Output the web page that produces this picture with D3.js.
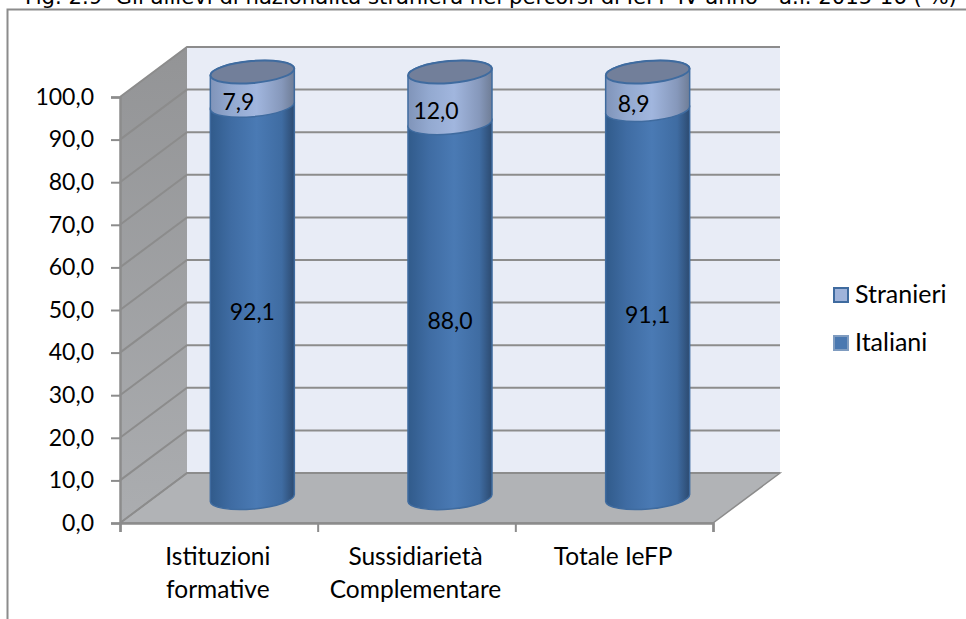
<!DOCTYPE html>
<html>
<head>
<meta charset="utf-8">
<script src="https://cdnjs.cloudflare.com/ajax/libs/d3/7.8.5/d3.min.js"></script>
<style>
  html, body { margin: 0; padding: 0; background: #fff; overflow: hidden; }
  text { font-family: Lato, "Open Sans", sans-serif; fill: #000; }
</style>
</head>
<body>
<div id="chart"></div>
<script>
const titleText = "Fig. 2.9  Gli allievi di nazionalità straniera nei percorsi di IeFP IV anno - a.f. 2015-16 ( %)";
const categories = ["Istituzioni formative", "Sussidiarietà Complementare", "Totale IeFP"];
const categoryLines = [["Istituzioni", "formative"], ["Sussidiarietà", "Complementare"], ["Totale IeFP"]];
const italiani = [92.1, 88.0, 91.1];
const stranieri = [7.9, 12.0, 8.9];
const seriesNames = ["Italiani", "Stranieri"];
const legendOrder = ["Stranieri", "Italiani"];
const yTicks = [0, 10, 20, 30, 40, 50, 60, 70, 80, 90, 100];

const width = 966;
const height = 619;
const depthX = 67;
const depthY = -50;
const gridColor = "#8c8c8c";

const svg = d3.select("#chart").append("svg")
  .attr("width", width)
  .attr("height", height);

const x = d3.scaleBand().domain(categories).range([120, 713]).paddingInner(0.575).paddingOuter(0.2875);
const y = d3.scaleLinear().domain([0, 100]).range([523, 97]);
const comma = (v) => v.toFixed(1).replace(".", ",");

// gradients
const defs = svg.append("defs");
function hGradient(id, stops) {
  const g = defs.append("linearGradient").attr("id", id);
  stops.forEach((s) => g.append("stop").attr("offset", s[0]).attr("stop-color", s[1]));
}
hGradient("gradItaliani", [[0, "#315b8b"], [0.25, "#3f6ca3"], [0.55, "#4a7ab4"], [0.85, "#3f6ca2"], [1, "#2c4a70"]]);
hGradient("gradStranieri", [[0, "#8094b9"], [0.25, "#93a9d0"], [0.55, "#a1b6de"], [0.85, "#8698bb"], [1, "#6f7d96"]]);
defs.append("linearGradient").attr("id", "gradSide").attr("x1", 0).attr("x2", 0).attr("y1", 0).attr("y2", 1)
  .selectAll("stop").data([[0, "#939496"], [1, "#abadb0"]]).enter().append("stop")
  .attr("offset", (d) => d[0]).attr("stop-color", (d) => d[1]);

// title, cut by the top of the picture
svg.append("text")
  .attr("id", "title")
  .attr("x", 25)
  .attr("y", 4)
  .style("white-space", "pre")
  .style("font-family", "'DejaVu Sans'")
  .style("font-size", "21.2px")
  .text(titleText);

// chart frame
svg.append("path")
  .attr("d", "M7.5," + height + "V9.5H" + width)
  .attr("fill", "none")
  .attr("stroke", gridColor)
  .attr("stroke-width", 2);

// back wall, side wall, floor
const [x0, x1] = x.range();
svg.append("rect")
  .attr("x", x0 + depthX)
  .attr("y", y(100) + depthY)
  .attr("width", x1 - x0)
  .attr("height", y(0) - y(100))
  .attr("fill", "#e8ecf6");
svg.append("path")
  .attr("d", d3.line()([[x0, y(100)], [x0 + depthX, y(100) + depthY], [x0 + depthX, y(0) + depthY], [x0, y(0)]]) + "Z")
  .attr("fill", "url(#gradSide)");
svg.append("path")
  .attr("d", d3.line()([[x0, y(0)], [x0 + depthX, y(0) + depthY], [x1 + depthX, y(0) + depthY], [x1, y(0)]]) + "Z")
  .attr("fill", "#b1b3b6")
  .attr("stroke", gridColor)
  .attr("stroke-width", 1.5);

// gridlines on both walls
const grid = svg.append("g").attr("fill", "none").attr("stroke", gridColor).attr("stroke-width", 2);
yTicks.forEach((t) => {
  grid.append("path")
    .attr("d", d3.line()([[x0, y(t)], [x0 + depthX, y(t) + depthY], [x1 + depthX, y(t) + depthY]]));
});

// axes
const yAxis = svg.append("g")
  .attr("transform", "translate(" + x0 + ",0)")
  .call(d3.axisLeft(y).tickValues(yTicks).tickSize(9).tickPadding(17).tickFormat(comma));
const xTickScale = d3.scaleLinear().domain([0, categories.length]).range([x0, x1]);
const xAxis = svg.append("g")
  .attr("transform", "translate(0," + y(0) + ")")
  .call(d3.axisBottom(xTickScale).ticks(categories.length).tickSize(9).tickFormat(""));
[yAxis, xAxis].forEach((a) => {
  a.selectAll("line").attr("stroke", gridColor).attr("stroke-width", 2);
  a.select(".domain").attr("stroke", gridColor).attr("stroke-width", 2.5);
});
yAxis.selectAll("text").style("font-family", null).style("font-size", "23px").attr("fill", "#000");
yAxis.attr("font-family", null);

// cylinders
const table = categories.map((c, i) => ({ category: c, Italiani: italiani[i], Stranieri: stranieri[i] }));
const stacked = d3.stack().keys(seriesNames)(table);
const rx = x.bandwidth() / 2;
const ry = 11;
const tilt = 5;
const tiltRise = rx * Math.sin(tilt * Math.PI / 180);
const offX = depthX / 2;
const offY = depthY / 2;
const arcTo = (px, py) => "A" + rx + "," + ry + " " + (-tilt) + " 0 0 " + px + "," + py;

function segmentPath(cat, v0, v1) {
  const cx = x(cat) + rx + offX;
  const top = y(v1) + offY;
  const bot = y(v0) + offY;
  return "M" + (cx - rx) + "," + (top + tiltRise) +
    "L" + (cx - rx) + "," + (bot + tiltRise) +
    arcTo(cx + rx, bot - tiltRise) +
    "L" + (cx + rx) + "," + (top - tiltRise) +
    arcTo(cx - rx, top + tiltRise) + "Z";
}

const seriesFill = { Italiani: "url(#gradItaliani)", Stranieri: "url(#gradStranieri)" };
svg.append("g").selectAll("g").data(stacked).enter().append("g")
  .attr("fill", (s) => seriesFill[s.key])
  .attr("stroke", "#3f6b9f")
  .attr("stroke-width", 1.5)
  .selectAll("path").data((s) => s).enter().append("path")
  .attr("d", (d) => segmentPath(d.data.category, d[0], d[1]));

svg.append("g").selectAll("ellipse").data(categories).enter().append("ellipse")
  .attr("cx", 0).attr("cy", 0)
  .attr("rx", rx).attr("ry", ry)
  .attr("transform", (c) => "translate(" + (x(c) + rx + offX) + "," + (y(100) + offY) + ") rotate(" + (-tilt) + ")")
  .attr("fill", "#727f9a")
  .attr("stroke", "#3f6b9f")
  .attr("stroke-width", 2);

// data labels
const labelLayer = svg.append("g").attr("text-anchor", "middle").style("font-size", "23px");
stacked.forEach((s) => {
  const isTop = s.key === "Stranieri";
  labelLayer.selectAll(null).data(s).enter().append("text")
    .attr("x", (d) => x(d.data.category) + rx + offX + (isTop ? -14 : 0))
    .attr("y", (d) => y((d[0] + d[1]) / 2) + offY + (isTop ? 13 : 10.5))
    .attr("dy", "0.35em")
    .text((d) => comma(d[1] - d[0]));
});

// category labels
const catLabels = svg.append("g").attr("text-anchor", "middle").style("font-size", "24.5px");
categories.forEach((c, i) => {
  const t = catLabels.append("text").attr("x", x(c) + rx - 1).attr("y", 565);
  categoryLines[i].forEach((line, j) => {
    t.append("tspan").attr("x", x(c) + rx - 1).attr("dy", j ? 33 : 0).text(line);
  });
});

// legend
const legendY = d3.scalePoint().domain(legendOrder).range([295, 343]);
const legendColor = { Stranieri: ["#9fb3da", "#3f6b9f"], Italiani: ["#4a78b0", "#7f9cc0"] };
const legend = svg.append("g").selectAll("g").data(legendOrder).enter().append("g")
  .attr("transform", (d) => "translate(833," + legendY(d) + ")");
legend.append("rect")
  .attr("x", 1).attr("y", -7)
  .attr("width", 14).attr("height", 14)
  .attr("fill", (d) => legendColor[d][0])
  .attr("stroke", (d) => legendColor[d][1])
  .attr("stroke-width", 2);
legend.append("text")
  .attr("x", 22).attr("y", 8)
  .style("font-size", "25px")
  .text((d) => d);
</script>
</body>
</html>
